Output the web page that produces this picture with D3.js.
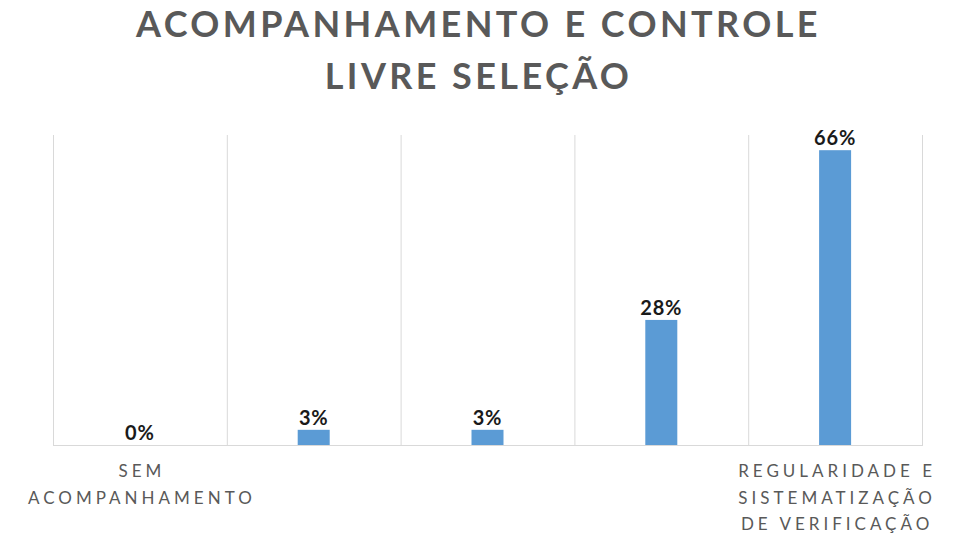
<!DOCTYPE html>
<html>
<head>
<meta charset="utf-8">
<script src="https://cdn.jsdelivr.net/npm/d3@7"></script>
<style>
  body { margin: 0; background: #fff; }
  .title { font-family: Lato, "Open Sans", sans-serif; font-weight: bold; fill: #595959; }
  .cat-label { font-family: Lato, "Open Sans", sans-serif; fill: #595959; }
  .val-label { font-family: Lato, "Open Sans", sans-serif; font-weight: bold; fill: #1a1a1a; }
</style>
</head>
<body>
<div class="chart"></div>
<script>
const FRAME_WIDTH = 953;
const FRAME_HEIGHT = 535;
const MARGINS = {left: 53, right: 31, top: 135, bottom: 90};

const TITLE_LINES = ["ACOMPANHAMENTO E CONTROLE", "LIVRE SELEÇÃO"];
// category keys and the lines shown under each one (middle ones have no visible label)
const CATEGORIES = ["c1", "c2", "c3", "c4", "c5"];
const CATEGORY_LINES = [
  ["SEM", "ACOMPANHAMENTO"],
  [],
  [],
  [],
  ["REGULARIDADE E", "SISTEMATIZAÇÃO", "DE VERIFICAÇÃO"]
];
const VALUES = [0, 0.034, 0.034, 0.28, 0.66];
const Y_MAX = 0.694;

const PLOT_WIDTH = FRAME_WIDTH - MARGINS.left - MARGINS.right;
const PLOT_HEIGHT = FRAME_HEIGHT - MARGINS.top - MARGINS.bottom;

const FRAME = d3.select(".chart")
  .append("svg")
  .attr("width", FRAME_WIDTH)
  .attr("height", FRAME_HEIGHT);

// title
FRAME.selectAll(".title")
  .data(TITLE_LINES)
  .enter()
  .append("text")
    .attr("class", "title")
    .attr("x", FRAME_WIDTH / 2 + 2)
    .attr("y", (d, i) => 37 + i * 52)
    .attr("text-anchor", "middle")
    .attr("font-size", "36px")
    .attr("letter-spacing", "3.4px")
    .text(d => d);

const X_SCALE = d3.scaleBand()
  .domain(CATEGORIES)
  .range([0, PLOT_WIDTH]);

const Y_SCALE = d3.scaleLinear()
  .domain([0, Y_MAX])
  .range([PLOT_HEIGHT, 0]);

const PLOT = FRAME.append("g")
  .attr("transform", "translate(" + MARGINS.left + "," + MARGINS.top + ")");

// vertical gridlines at category boundaries
const BOUNDS = CATEGORIES.map(c => X_SCALE(c)).concat([PLOT_WIDTH]);
PLOT.selectAll(".grid")
  .data(BOUNDS)
  .enter()
  .append("line")
    .attr("x1", d => d + 0.5)
    .attr("x2", d => d + 0.5)
    .attr("y1", 0)
    .attr("y2", PLOT_HEIGHT)
    .attr("stroke", "#d9d9d9")
    .attr("stroke-width", 1);

// baseline
PLOT.append("line")
  .attr("x1", 0)
  .attr("x2", PLOT_WIDTH + 1)
  .attr("y1", PLOT_HEIGHT + 0.5)
  .attr("y2", PLOT_HEIGHT + 0.5)
  .attr("stroke", "#d9d9d9");

const BAR_WIDTH = 32;

PLOT.selectAll(".bar")
  .data(VALUES)
  .enter()
  .append("rect")
    .attr("x", (d, i) => X_SCALE(CATEGORIES[i]) + X_SCALE.bandwidth() / 2 - BAR_WIDTH / 2)
    .attr("y", d => Y_SCALE(d))
    .attr("width", BAR_WIDTH)
    .attr("height", d => PLOT_HEIGHT - Y_SCALE(d))
    .attr("fill", "#5b9bd5");

PLOT.selectAll(".val-label")
  .data(VALUES)
  .enter()
  .append("text")
    .attr("class", "val-label")
    .attr("x", (d, i) => X_SCALE(CATEGORIES[i]) + X_SCALE.bandwidth() / 2)
    .attr("y", d => Y_SCALE(d) - 5)
    .attr("text-anchor", "middle")
    .attr("font-size", "20px")
    .attr("letter-spacing", "0.8px")
    .text(d => d3.format(".0%")(d));

// category labels
const TICKS = PLOT.selectAll(".cat")
  .data(CATEGORY_LINES)
  .enter()
  .append("text")
    .attr("class", "cat-label")
    .attr("text-anchor", "middle")
    .attr("font-size", "17px")
    .attr("letter-spacing", "4px")
    .attr("transform", (d, i) => "translate(" + (X_SCALE(CATEGORIES[i]) + X_SCALE.bandwidth() / 2 + 2) + "," + (PLOT_HEIGHT + 32) + ")");

TICKS.selectAll("tspan")
  .data(d => d)
  .enter()
  .append("tspan")
    .attr("x", 0)
    .attr("y", (d, i) => i * 26.5)
    .text(d => d);
</script>
</body>
</html>
